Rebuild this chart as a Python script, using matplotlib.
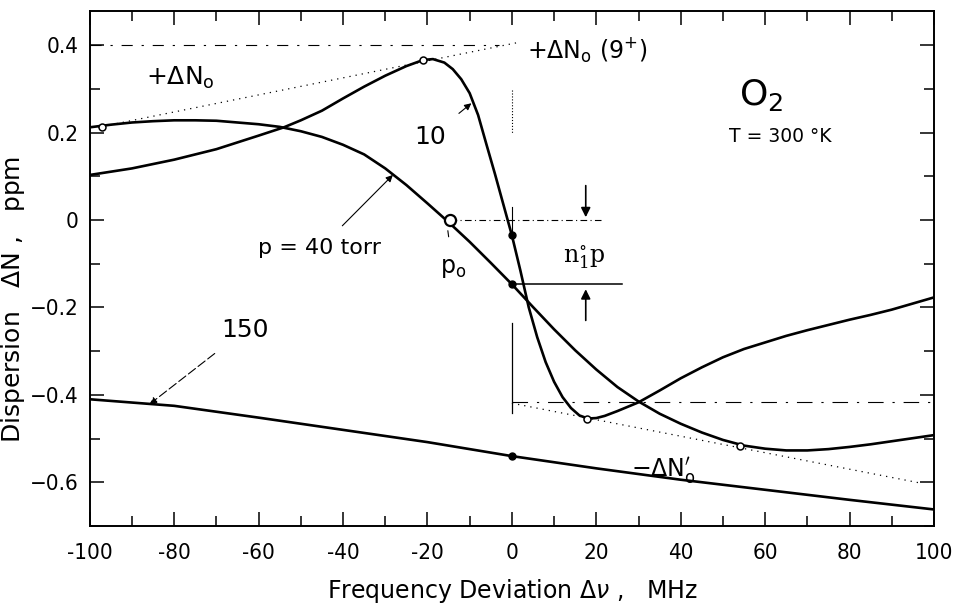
import numpy as np
import matplotlib.pyplot as plt
from matplotlib.ticker import MultipleLocator

plt.rcParams['font.family'] = ['DejaVu Sans']
plt.rcParams['mathtext.fontset'] = 'dejavusans'

# ----------------------------------------------------
# DATA

# p = 40 torr
x40 = [-100, -95, -90, -85, -80, -75, -70, -65, -60, -55, -50, -45, -40, -35, -30,
       -25, -20, -15, -10, -5, 0, 5, 10, 15, 20, 25, 30, 35, 40, 45, 50, 55, 60,
       65, 70, 75, 80, 85, 90, 95, 100]
y40 = [0.212, 0.218, 0.223, 0.226, 0.228, 0.228, 0.227, 0.223, 0.219, 0.213, 0.203,
       0.190, 0.172, 0.150, 0.118, 0.080, 0.038, -0.005, -0.050, -0.098, -0.147,
       -0.199, -0.250, -0.298, -0.342, -0.382, -0.415, -0.443, -0.466, -0.486,
       -0.503, -0.516, -0.523, -0.527, -0.527, -0.524, -0.519, -0.513, -0.506,
       -0.499, -0.492]

# p = 10 torr
x10 = [-100, -90, -80, -70, -60, -54, -50, -45, -40, -35, -30, -25, -21, -18.7, -16,
       -14, -12, -10, -8, -6, -4, -2, 0, 2, 4, 6, 8, 10, 12, 14, 16, 18, 20, 22,
       25, 30, 35, 40, 45, 50, 55, 60, 65, 70, 75, 80, 85, 90, 95, 100]
y10 = [0.103, 0.118, 0.138, 0.162, 0.193, 0.212, 0.228, 0.250, 0.278, 0.305, 0.330,
       0.352, 0.366, 0.368, 0.360, 0.345, 0.322, 0.290, 0.240, 0.172, 0.105, 0.035,
       -0.035, -0.115, -0.200, -0.268, -0.325, -0.370, -0.405, -0.430, -0.447,
       -0.454, -0.453, -0.448, -0.437, -0.417, -0.390, -0.362, -0.337, -0.314,
       -0.295, -0.280, -0.265, -0.252, -0.240, -0.228, -0.217, -0.205, -0.191, -0.177]

# p = 150 torr
x150 = [-100, -80, -60, -40, -20, 0, 20, 40, 60, 80, 100]
y150 = [-0.410, -0.425, -0.452, -0.480, -0.508, -0.540, -0.568, -0.594, -0.617,
        -0.640, -0.662]

# +dN0 and -dN0' asymptote lines
xplus = [-98, 2]
yplus = [0.212, 0.407]
xminus = [0, 97]
yminus = [-0.419, -0.602]

# marked points
open_x = [-97, -21, 17.8, 54]
open_y = [0.213, 0.366, -0.454, -0.517]
dot_x = [0, 0, 0]
dot_y = [-0.035, -0.147, -0.540]
p0_x, p0_y = -14.6, 0.0

xticks = [-100, -80, -60, -40, -20, 0, 20, 40, 60, 80, 100]
xticklabels = ['-100', '-80', '-60', '-40', '-20', '0', '20', '40', '60', '80', '100']
yticks = [-0.6, -0.4, -0.2, 0, 0.2, 0.4]
yticklabels = ['\u22120.6', '\u22120.4', '\u22120.2', '0', '0.2', '0.4']

# ----------------------------------------------------
# PLOT

fig = plt.figure(figsize=(9.55, 6.11), dpi=100)
ax = fig.add_axes([0.094, 0.139, 0.884, 0.843])

lw = 1.9
ax.plot(x40, y40, color='black', lw=lw)
ax.plot(x10, y10, color='black', lw=lw)
ax.plot(x150, y150, color='black', lw=lw)

ax.plot(xplus, yplus, color='black', lw=0.9, ls=(0, (1, 4)))
ax.plot(xminus, yminus, color='black', lw=0.9, ls=(0, (1, 4)))

# reference lines
ax.plot([-100, -3], [0.4, 0.4], color='black', lw=0.8, ls=(0, (10, 8, 2, 8)))
ax.plot([0, 100], [-0.417, -0.417], color='black', lw=0.8, ls=(0, (14, 8, 2, 8)))
ax.plot([-14.6, 21], [0, 0], color='black', lw=0.8, ls=(0, (6, 3, 1, 3)))
ax.plot([0, 26], [-0.147, -0.147], color='black', lw=1.1)
ax.plot([0, 0], [-0.236, -0.442], color='black', lw=0.9)
ax.plot([0, 0], [0.297, 0.2], color='black', lw=0.8, ls=':')
ax.plot([0, 0], [0.03, -0.03], color='black', lw=0.8)

ax.plot(open_x, open_y, 'o', ms=5, mfc='white', mec='black', mew=1.1)
ax.plot(p0_x, p0_y, 'o', ms=8, mfc='white', mec='black', mew=1.6)
ax.plot(dot_x, dot_y, 'o', ms=5, color='black')

# n1 p arrows
ax.annotate('', xy=(17.5, 0.0), xytext=(17.5, 0.085),
            arrowprops=dict(arrowstyle='-|>', color='black', lw=1.2, mutation_scale=14))
ax.annotate('', xy=(17.5, -0.152), xytext=(17.5, -0.236),
            arrowprops=dict(arrowstyle='-|>', color='black', lw=1.2, mutation_scale=14))
ax.text(17.2, -0.085, r'$\mathrm{n}_{1}^{\circ}\mathrm{p}$', fontsize=17, ha='center',
        va='center', family='DejaVu Serif', math_fontfamily='dejavuserif')

# labels with arrows
arrow_kw = dict(arrowstyle='-|>', color='black', lw=0.8, mutation_scale=10)
ax.annotate('10', xy=(-9.6, 0.267), xytext=(-19.4, 0.19), fontsize=18,
            ha='center', va='center', arrowprops=dict(arrow_kw, shrinkA=10, shrinkB=0))
ax.annotate('p = 40 torr', xy=(-28.2, 0.103), xytext=(-45.5, -0.065), fontsize=16,
            ha='center', va='center', arrowprops=dict(arrow_kw, shrinkA=10, shrinkB=0))
ax.annotate('150', xy=(-85.8, -0.421), xytext=(-63.3, -0.252), fontsize=18,
            ha='center', va='center',
            arrowprops=dict(arrow_kw, ls=(0, (8, 3)), shrinkA=10, shrinkB=0))
ax.annotate(r'p$_\mathrm{o}$', xy=(-15.3, -0.015), xytext=(-14, -0.11), fontsize=17,
            ha='center', va='center',
            arrowprops=dict(arrowstyle='-', color='black', lw=0.8, shrinkA=12, shrinkB=3))

ax.text(-78.5, 0.325, r'+$\Delta$N$_\mathrm{o}$', fontsize=18, ha='center', va='center')
ax.text(3.5, 0.387, r'+$\Delta$N$_\mathrm{o}$ (9$^{+}$)', fontsize=17, ha='left', va='center')
ax.text(36, -0.573, r'$-\Delta$N$_\mathrm{o}^{\prime}$', fontsize=17, ha='center', va='center')
ax.text(59, 0.285, r'O$_2$', fontsize=26, ha='center', va='center')
ax.text(63.5, 0.192, 'T = 300 °K', fontsize=13.5, ha='center', va='center')

# axes
ax.set_xlim(-100, 100)
ax.set_ylim(-0.70, 0.478)
ax.set_xticks(xticks)
ax.set_xticklabels(xticklabels)
ax.set_yticks(yticks)
ax.set_yticklabels(yticklabels)
ax.xaxis.set_minor_locator(MultipleLocator(10))
ax.yaxis.set_minor_locator(MultipleLocator(0.1))
ax.tick_params(which='both', direction='in', top=True, right=True, labelsize=16, width=1.1)
ax.tick_params(which='major', length=10)
ax.tick_params(which='minor', length=7)
ax.tick_params(axis='x', which='major', pad=12)
ax.tick_params(axis='y', which='major', pad=8)
for lbl in ax.get_xticklabels() + ax.get_yticklabels():
    lbl.set_fontstretch('condensed')
for s in ax.spines.values():
    s.set_linewidth(1.4)

ax.set_xlabel(r'Frequency Deviation $\Delta\nu$ ,   MHz', fontsize=17, labelpad=10)
ax.set_ylabel(r'Dispersion   $\Delta$N ,   ppm', fontsize=18)
ax.yaxis.set_label_coords(-0.074, 0.44)

fig.savefig('out.png', dpi=100)
